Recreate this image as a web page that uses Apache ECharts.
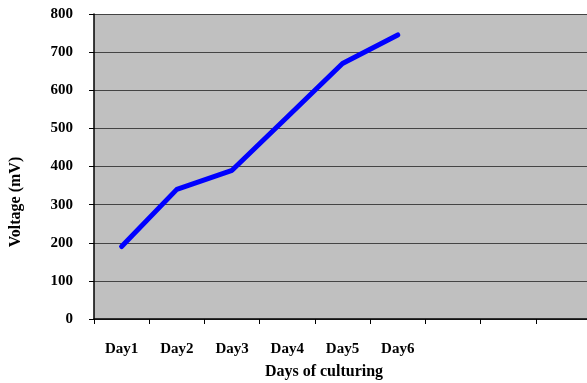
<!DOCTYPE html>
<html>
<head>
<meta charset="utf-8">
<script src="https://cdn.jsdelivr.net/npm/echarts@6/dist/echarts.min.js"></script>
<style>
  html, body { margin: 0; padding: 0; overflow: hidden; background: #fff; }
  #chart { width: 591px; height: 383px; }
</style>
</head>
<body>
<div id="chart"></div>
<script>
// Voltage readings over the culturing period
const days = ['Day1', 'Day2', 'Day3', 'Day4', 'Day5', 'Day6', '', '', ''];
const voltage = [190, 340, 390, 530, 670, 745];
const yTicks = { min: 0, max: 800, step: 100 };

const serif = '"Liberation Serif", "Times New Roman", serif';

const chart = echarts.init(document.getElementById('chart'), null, { renderer: 'canvas' });
chart.setOption({
  animation: false,
  grid: {
    left: 94, top: 14, right: 0, bottom: 64,
    show: true, backgroundColor: '#C0C0C0', borderWidth: 0
  },
  xAxis: {
    type: 'category',
    data: days,
    boundaryGap: true,
    axisLine: { show: true, lineStyle: { color: '#000', width: 1.5 } },
    axisTick: { show: true, length: 5, alignWithLabel: false, interval: 0, lineStyle: { color: '#000' } },
    axisLabel: {
      interval: 0, margin: 23,
      fontFamily: serif, fontWeight: 'bold', fontSize: 15, color: '#000'
    },
    splitLine: { show: false }
  },
  yAxis: {
    type: 'value',
    min: yTicks.min, max: yTicks.max, interval: yTicks.step,
    axisLine: { show: true, lineStyle: { color: '#000', width: 1.5 } },
    axisTick: { show: true, length: 5, lineStyle: { color: '#000' } },
    axisLabel: {
      margin: 21,
      fontFamily: serif, fontWeight: 'bold', fontSize: 15, color: '#000'
    },
    splitLine: { show: true, lineStyle: { color: '#444', width: 1 } }
  },
  graphic: [
    {
      type: 'text', x: 16, y: 202, rotation: Math.PI / 2,
      style: {
        text: 'Voltage (mV)', fontFamily: serif, fontWeight: 'bold', fontSize: 16,
        fill: '#000', align: 'center', verticalAlign: 'middle'
      }
    },
    {
      type: 'text', x: 324, y: 372,
      style: {
        text: 'Days of culturing', fontFamily: serif, fontWeight: 'bold', fontSize: 16,
        fill: '#000', align: 'center', verticalAlign: 'middle'
      }
    }
  ],
  series: [{
    type: 'line',
    data: voltage,
    showSymbol: false,
    lineStyle: { color: '#0000FF', width: 5, cap: 'round', join: 'round' }
  }]
});
</script>
</body>
</html>
